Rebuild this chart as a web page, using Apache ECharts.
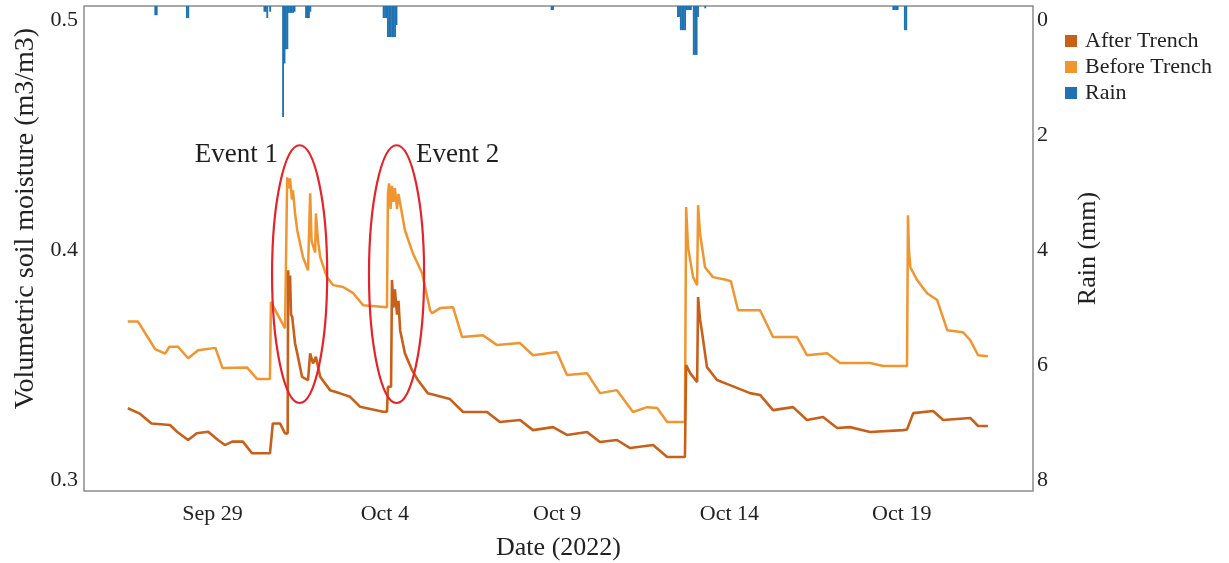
<!DOCTYPE html>
<html>
<head>
<meta charset="utf-8">
<script src="https://cdn.jsdelivr.net/npm/echarts@6/dist/echarts.min.js"></script>
<style>
  html, body { margin: 0; padding: 0; background: #fff; }
  #main { width: 1229px; height: 563px; }
</style>
</head>
<body>
<div id="main"></div>
<script>
// soil moisture (m3/m3)
var beforeTrench = [
  ['09-26 13:00', 0.369], ['09-26 20:00', 0.369], ['09-27 08:00', 0.357], ['09-27 15:00', 0.355],
  ['09-27 18:00', 0.358], ['09-28 00:00', 0.358], ['09-28 07:00', 0.353], ['09-28 14:00', 0.3565],
  ['09-29 02:00', 0.3575], ['09-29 07:00', 0.3487], ['09-30 00:00', 0.349], ['09-30 07:00', 0.344],
  ['09-30 16:00', 0.344], ['09-30 16:40', 0.3775], ['10-01 02:30', 0.366], ['10-01 03:50', 0.366],
  ['10-01 04:00', 0.4317], ['10-01 05:20', 0.427], ['10-01 06:00', 0.4313], ['10-01 07:20', 0.422],
  ['10-01 08:00', 0.426], ['10-01 09:30', 0.416], ['10-01 11:00', 0.4087], ['10-01 15:00', 0.397],
  ['10-01 18:30', 0.3913], ['10-01 19:30', 0.3905], ['10-01 20:00', 0.4248], ['10-01 21:00', 0.404],
  ['10-01 22:00', 0.402], ['10-01 23:30', 0.399], ['10-02 00:00', 0.416], ['10-02 01:30', 0.404],
  ['10-02 03:00', 0.397], ['10-02 07:40', 0.3883], ['10-02 12:00', 0.3848], ['10-02 19:00', 0.384],
  ['10-03 02:00', 0.3813], ['10-03 08:50', 0.3761], ['10-04 01:30', 0.3752], ['10-04 02:10', 0.4248],
  ['10-04 03:00', 0.4291], ['10-04 04:00', 0.418], ['10-04 05:00', 0.428], ['10-04 06:00', 0.421],
  ['10-04 07:00', 0.427], ['10-04 08:30', 0.418], ['10-04 09:30', 0.4245], ['10-04 11:30', 0.4175],
  ['10-04 14:00', 0.4087], ['10-04 19:30', 0.3987], ['10-05 02:00', 0.39], ['10-05 07:30', 0.3739],
  ['10-05 09:00', 0.3726], ['10-05 14:30', 0.3748], ['10-05 23:30', 0.3752], ['10-06 05:50', 0.3622],
  ['10-06 20:20', 0.363], ['10-07 06:10', 0.3587], ['10-07 22:10', 0.3596], ['10-08 07:10', 0.3543],
  ['10-08 23:50', 0.3557], ['10-09 06:50', 0.3457], ['10-09 20:50', 0.3465], ['10-10 05:50', 0.3378],
  ['10-10 17:40', 0.3391], ['10-11 04:50', 0.3296], ['10-11 14:40', 0.3317], ['10-11 21:40', 0.3313],
  ['10-12 04:40', 0.3252], ['10-12 17:00', 0.3252], ['10-12 17:50', 0.4188], ['10-12 19:10', 0.4013],
  ['10-12 22:40', 0.3883], ['10-13 01:30', 0.3848], ['10-13 02:10', 0.4196], ['10-13 03:30', 0.4074],
  ['10-13 07:00', 0.3926], ['10-13 12:30', 0.3883], ['10-13 22:20', 0.387], ['10-14 01:00', 0.3865],
  ['10-14 06:00', 0.3739], ['10-14 21:20', 0.3739], ['10-15 06:20', 0.3622], ['10-15 23:00', 0.3622],
  ['10-16 06:00', 0.3543], ['10-16 20:00', 0.3552], ['10-17 05:00', 0.3509], ['10-18 02:00', 0.3509],
  ['10-18 11:00', 0.3496], ['10-19 03:40', 0.3496], ['10-19 04:20', 0.4152], ['10-19 05:00', 0.40],
  ['10-19 06:00', 0.3926], ['10-19 10:40', 0.387], ['10-19 17:40', 0.3813], ['10-20 00:40', 0.3783],
  ['10-20 07:40', 0.3652], ['10-20 18:40', 0.3643], ['10-20 23:40', 0.3609], ['10-21 05:10', 0.3543],
  ['10-21 12:00', 0.3539]
];

var afterTrench = [
  ['09-26 13:00', 0.3312], ['09-26 21:00', 0.329], ['09-27 05:30', 0.3246], ['09-27 18:20', 0.3239],
  ['09-27 23:20', 0.321], ['09-28 07:00', 0.3174], ['09-28 13:00', 0.3203], ['09-28 21:00', 0.321],
  ['09-29 03:50', 0.3174], ['09-29 08:40', 0.3152], ['09-29 13:40', 0.3167], ['09-29 21:10', 0.3167],
  ['09-30 03:30', 0.3116], ['09-30 16:00', 0.3116], ['09-30 18:00', 0.3246], ['09-30 23:00', 0.3246],
  ['10-01 02:30', 0.3203], ['10-01 04:20', 0.3203], ['10-01 04:40', 0.3913], ['10-01 05:30', 0.378],
  ['10-01 06:00', 0.389], ['10-01 06:40', 0.372], ['10-01 07:30', 0.371], ['10-01 09:30', 0.3594],
  ['10-01 11:00', 0.3551], ['10-01 14:20', 0.3449], ['10-01 18:30', 0.3435], ['10-01 20:00', 0.3551],
  ['10-01 22:00', 0.3507], ['10-02 00:00', 0.3536], ['10-02 03:00', 0.3449], ['10-02 09:50', 0.3391],
  ['10-02 16:50', 0.3377], ['10-02 23:50', 0.3362], ['10-03 06:40', 0.3319], ['10-03 22:50', 0.3297],
  ['10-04 01:30', 0.3297], ['10-04 02:10', 0.3406], ['10-04 04:20', 0.3406], ['10-04 05:00', 0.387],
  ['10-04 06:00', 0.375], ['10-04 07:00', 0.383], ['10-04 08:30', 0.372], ['10-04 09:30', 0.378],
  ['10-04 10:40', 0.3652], ['10-04 14:00', 0.3551], ['10-04 19:00', 0.3478], ['10-04 23:00', 0.3435],
  ['10-05 06:00', 0.3377], ['10-05 21:20', 0.3352], ['10-06 06:30', 0.3296], ['10-06 23:10', 0.3296],
  ['10-07 08:10', 0.3252], ['10-07 22:10', 0.3261], ['10-08 07:10', 0.3217], ['10-08 21:10', 0.323],
  ['10-09 06:50', 0.3196], ['10-09 20:50', 0.3209], ['10-10 05:50', 0.3165], ['10-10 17:40', 0.3174],
  ['10-11 02:50', 0.3139], ['10-11 18:50', 0.3152], ['10-12 04:40', 0.31], ['10-12 17:00', 0.31],
  ['10-12 17:50', 0.35], ['10-12 20:40', 0.3465], ['10-13 01:30', 0.3426], ['10-13 02:10', 0.3796],
  ['10-13 03:30', 0.37], ['10-13 05:00', 0.3639], ['10-13 08:20', 0.3491], ['10-13 15:20', 0.3435],
  ['10-14 00:20', 0.3413], ['10-14 14:20', 0.3378], ['10-14 21:20', 0.337], ['10-15 06:20', 0.3304],
  ['10-15 20:20', 0.3317], ['10-16 06:00', 0.3261], ['10-16 17:10', 0.3274], ['10-17 03:00', 0.3226],
  ['10-17 12:00', 0.323], ['10-18 02:00', 0.3209], ['10-19 01:00', 0.3217], ['10-19 03:40', 0.322],
  ['10-19 08:00', 0.3291], ['10-19 21:50', 0.33], ['10-20 04:50', 0.3261], ['10-20 23:40', 0.327],
  ['10-21 05:10', 0.3235], ['10-21 12:00', 0.3235]
];

// hourly rain (mm)
var rain = [
  ['09-27 08:00', 0.16], ['09-27 09:00', 0.16], ['09-28 06:00', 0.21], ['09-28 07:00', 0.21],
  ['09-30 12:00', 0.1], ['09-30 13:00', 0.1], ['09-30 14:00', 0.21], ['09-30 16:00', 0.1],
  ['10-01 01:00', 1.93], ['10-01 02:00', 1.0], ['10-01 03:00', 0.75], ['10-01 04:00', 0.75],
  ['10-01 05:00', 0.12], ['10-01 06:00', 0.12], ['10-01 07:00', 0.12], ['10-01 08:00', 0.12],
  ['10-01 09:00', 0.1], ['10-01 17:00', 0.21], ['10-01 18:00', 0.21], ['10-01 19:00', 0.21],
  ['10-01 20:00', 0.1], ['10-03 23:00', 0.21], ['10-04 00:00', 0.21], ['10-04 01:00', 0.21],
  ['10-04 02:00', 0.54], ['10-04 03:00', 0.54], ['10-04 04:00', 0.54], ['10-04 05:00', 0.54],
  ['10-04 06:00', 0.54], ['10-04 07:00', 0.54], ['10-04 08:00', 0.33], ['10-08 20:00', 0.07],
  ['10-08 21:00', 0.07], ['10-12 12:00', 0.19], ['10-12 13:00', 0.19], ['10-12 14:00', 0.42],
  ['10-12 15:00', 0.42], ['10-12 16:00', 0.42], ['10-12 17:00', 0.42], ['10-12 18:00', 0.07],
  ['10-12 19:00', 0.07], ['10-12 20:00', 0.07], ['10-12 21:00', 0.07], ['10-12 23:00', 0.85],
  ['10-13 00:00', 0.85], ['10-13 01:00', 0.85], ['10-13 02:00', 0.19], ['10-13 07:00', 0.04],
  ['10-18 18:00', 0.07], ['10-18 19:00', 0.07], ['10-18 20:00', 0.07], ['10-18 21:00', 0.07],
  ['10-19 02:00', 0.42], ['10-19 03:00', 0.42]
];

var xTicks = ['09-29', '10-04', '10-09', '10-14', '10-19'];
var moistureTicks = [0.3, 0.4, 0.5];
var rainTicks = [0, 2, 4, 6, 8];

// event annotations: name, centre time, centre value
var eventNames = ['Event 1', 'Event 2'];
var eventCenters = [['10-01 12:40', 0.3896], ['10-04 08:10', 0.3896]];

var YEAR = '2022-';
var HOUR = 3600 * 1000;
var FONT = '"Liberation Serif", "Times New Roman", serif';
var MONTHS = ['Jan', 'Feb', 'Mar', 'Apr', 'May', 'Jun', 'Jul', 'Aug', 'Sep', 'Oct', 'Nov', 'Dec'];

function ts(s) { return +echarts.time.parse(YEAR + s); }
function toPoints(list) {
  return list.map(function (d) { return [ts(d[0]), d[1]]; });
}

var colBefore = '#f0952f';
var colAfter = '#c8601a';
var colRain = '#1f72b2';

var chart = echarts.init(document.getElementById('main'));

var option = {
  animation: false,
  backgroundColor: '#fff',
  textStyle: { fontFamily: FONT },
  grid: {
    left: 84, right: 196, top: 6, bottom: 72,
    outerBoundsMode: 'none',
    show: true, borderColor: '#8c8c8c', borderWidth: 1.5, backgroundColor: 'transparent'
  },
  legend: {
    orient: 'vertical',
    left: 1060, top: 25,
    icon: 'rect', itemWidth: 12, itemHeight: 12, itemGap: 4,
    data: ['After Trench', 'Before Trench', 'Rain'],
    textStyle: { fontFamily: FONT, fontSize: 22, color: '#222', padding: [0, 0, 0, 3] }
  },
  xAxis: {
    type: 'value',
    min: ts('09-25 06:30'),
    max: ts('10-22 19:24'),
    name: 'Date (2022)',
    nameLocation: 'middle',
    nameGap: 44,
    nameTextStyle: { fontFamily: FONT, fontSize: 26, color: '#222' },
    axisLine: { show: false },
    axisTick: { show: false },
    splitLine: { show: false },
    axisLabel: {
      customValues: xTicks.map(ts),
      margin: 12,
      fontFamily: FONT, fontSize: 22, color: '#222',
      formatter: function (v) {
        var d = new Date(v);
        return MONTHS[d.getMonth()] + ' ' + d.getDate();
      }
    }
  },
  yAxis: [{
    type: 'value',
    min: 0.2952, max: 0.5063,
    name: 'Volumetric soil moisture (m3/m3)',
    nameLocation: 'middle',
    nameGap: 42,
    nameTextStyle: { fontFamily: FONT, fontSize: 28, color: '#222', padding: [0, 0, 0, 60] },
    axisLine: { show: false },
    axisTick: { show: false },
    splitLine: { show: false },
    axisLabel: {
      customValues: moistureTicks,
      margin: 6,
      fontFamily: FONT, fontSize: 22, color: '#222',
      formatter: function (v) { return v.toFixed(1); }
    }
  }, {
    type: 'value',
    position: 'right',
    inverse: true,
    min: -0.2435, max: 8.191,
    name: 'Rain (mm)',
    nameLocation: 'middle',
    nameRotate: 90,
    nameGap: 42,
    nameTextStyle: { fontFamily: FONT, fontSize: 26, color: '#222' },
    axisLine: { show: false },
    axisTick: { show: false },
    splitLine: { show: false },
    axisLabel: {
      customValues: rainTicks,
      margin: 4,
      fontFamily: FONT, fontSize: 22, color: '#222'
    }
  }],
  series: [{
    name: 'Before Trench',
    type: 'line',
    showSymbol: false,
    data: toPoints(beforeTrench),
    itemStyle: { color: colBefore },
    lineStyle: { color: colBefore, width: 2.5 }
  }, {
    name: 'After Trench',
    type: 'line',
    showSymbol: false,
    data: toPoints(afterTrench),
    itemStyle: { color: colAfter },
    lineStyle: { color: colAfter, width: 2.6 }
  }, {
    name: 'Rain',
    type: 'custom',
    yAxisIndex: 1,
    itemStyle: { color: colRain },
    data: toPoints(rain),
    encode: { x: 0, y: 1 },
    renderItem: function (params, api) {
      // bars hang from the top of the panel
      var p = api.coord([api.value(0), 0]);
      var s = api.size([HOUR, api.value(1)], [api.value(0), 0]);
      return {
        type: 'rect',
        shape: { x: p[0] - s[0] / 2, y: params.coordSys.y, width: s[0] + 0.4, height: s[1] },
        style: { fill: colRain }
      };
    }
  }, {
    name: 'events',
    type: 'custom',
    silent: true,
    z: 5,
    data: toPoints(eventCenters),
    encode: { x: 0, y: 1 },
    renderItem: function (params, api) {
      var c = api.coord([api.value(0), api.value(1)]);
      var r = api.size([19.2 * HOUR, 0.1122], [api.value(0), api.value(1)]);
      var rx = r[0], ry = r[1] / 2;
      var leftSide = params.dataIndex === 0;
      return {
        type: 'group',
        children: [{
          type: 'ellipse',
          shape: { cx: c[0], cy: c[1], rx: rx, ry: ry },
          style: { fill: 'none', stroke: '#e3242b', lineWidth: 2.2 }
        }, {
          type: 'text',
          style: {
            text: eventNames[params.dataIndex],
            x: leftSide ? c[0] - rx + 6 : c[0] + rx - 8,
            y: c[1] - ry + 10,
            align: leftSide ? 'right' : 'left',
            verticalAlign: 'middle',
            font: '27px ' + FONT,
            fill: '#1e1e1e'
          }
        }]
      };
    }
  }]
};

chart.setOption(option);
</script>
</body>
</html>
